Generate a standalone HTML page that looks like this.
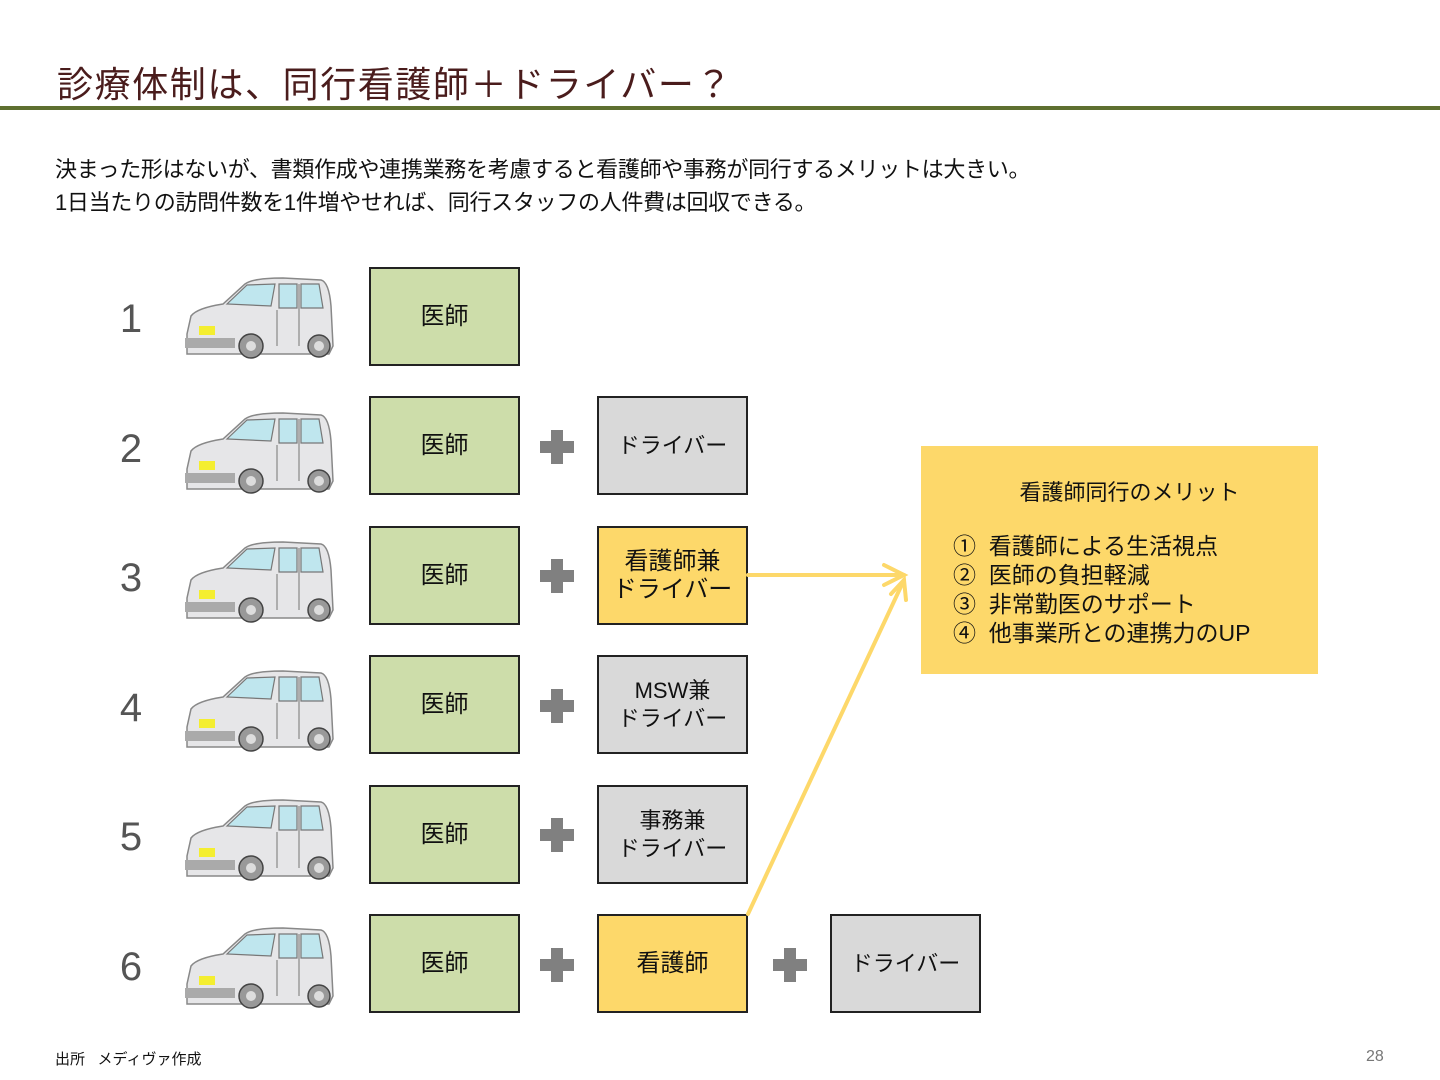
<!DOCTYPE html>
<html><head><meta charset="utf-8"><style>
body{margin:0;width:1440px;height:1080px;background:#fff;position:relative;overflow:hidden;font-family:"Liberation Sans","Noto Sans CJK JP",sans-serif;color:#111}
.a{position:absolute}
.title{left:57px;top:56px;font-size:36px;color:#4a1c1c;white-space:nowrap;letter-spacing:1.6px}
.rule{left:0;top:106px;width:1440px;height:4px;background:#5e6f30}
.p{left:55px;font-size:22px;white-space:nowrap;letter-spacing:-0.3px}
.num{left:118px;width:26px;font-size:40px;color:#555;text-align:center}
.box{border:2px solid #222;box-sizing:border-box;display:flex;align-items:center;justify-content:center;text-align:center;font-size:24px;line-height:28px;width:151px;height:99px}
.g{background:#cdddaa}.y{background:#fdd86a}.s{background:#d9d9d9;font-size:22px}
.plus{width:34px;height:34px}
.plus:before{content:"";position:absolute;left:11px;top:0;width:12px;height:34px;background:#808080}
.plus:after{content:"";position:absolute;left:0;top:11px;width:34px;height:12px;background:#808080}
</style></head><body>
<div class="a title">診療体制は、同行看護師＋ドライバー？</div>
<div class="a rule"></div>
<div class="a p" style="top:152px">決まった形はないが、書類作成や連携業務を考慮すると看護師や事務が同行するメリットは大きい。</div>
<div class="a p" style="top:185px">1日当たりの訪問件数を1件増やせれば、同行スタッフの人件費は回収できる。</div>

<svg width="0" height="0" style="position:absolute"><defs>
<g id="car">
<path d="M4 58 L8 40 Q14 32 40 28 L62 8 Q70 2 100 2 L138 4 Q146 6 148 30 L150 70 L146 78 L4 78 Z" fill="#e6e6e8" stroke="#888" stroke-width="1.5"/>
<path d="M44 28 L64 9 L92 8 L88 30 Z" fill="#bfe6ee" stroke="#777" stroke-width="1.2"/>
<path d="M96 8 L114 8 L114 32 L96 32 Z" fill="#bfe6ee" stroke="#777" stroke-width="1.2"/>
<path d="M118 8 L136 8 L140 32 L118 32 Z" fill="#bfe6ee" stroke="#777" stroke-width="1.2"/>
<path d="M94 34 L94 70 M116 8 L116 70" stroke="#888" stroke-width="1.2"/>
<rect x="16" y="50" width="16" height="9" fill="#f4ee30"/>
<rect x="2" y="62" width="50" height="10" fill="#aaa"/>
<circle cx="68" cy="70" r="12" fill="#999" stroke="#444" stroke-width="1.5"/><circle cx="68" cy="70" r="5" fill="#ddd"/>
<circle cx="136" cy="70" r="11" fill="#999" stroke="#444" stroke-width="1.5"/><circle cx="136" cy="70" r="5" fill="#ddd"/>
</g></defs></svg>

<div class="a num" style="top:297px">1</div>
<div class="a num" style="top:427px">2</div>
<div class="a num" style="top:556px">3</div>
<div class="a num" style="top:686px">4</div>
<div class="a num" style="top:815px">5</div>
<div class="a num" style="top:945px">6</div>

<svg class="a" style="left:183px;top:276px" width="152" height="84"><use href="#car"/></svg>
<svg class="a" style="left:183px;top:411px" width="152" height="84"><use href="#car"/></svg>
<svg class="a" style="left:183px;top:540px" width="152" height="84"><use href="#car"/></svg>
<svg class="a" style="left:183px;top:669px" width="152" height="84"><use href="#car"/></svg>
<svg class="a" style="left:183px;top:798px" width="152" height="84"><use href="#car"/></svg>
<svg class="a" style="left:183px;top:926px" width="152" height="84"><use href="#car"/></svg>

<div class="a box g" style="left:369px;top:267px">医師</div>
<div class="a box g" style="left:369px;top:396px">医師</div>
<div class="a box g" style="left:369px;top:526px">医師</div>
<div class="a box g" style="left:369px;top:655px">医師</div>
<div class="a box g" style="left:369px;top:785px">医師</div>
<div class="a box g" style="left:369px;top:914px">医師</div>

<div class="a plus" style="left:540px;top:430px"></div>
<div class="a plus" style="left:540px;top:559px"></div>
<div class="a plus" style="left:540px;top:689px"></div>
<div class="a plus" style="left:540px;top:818px"></div>
<div class="a plus" style="left:540px;top:948px"></div>
<div class="a plus" style="left:773px;top:948px"></div>

<div class="a box s" style="left:597px;top:396px">ドライバー</div>
<div class="a box y" style="left:597px;top:526px">看護師兼<br>ドライバー</div>
<div class="a box s" style="left:597px;top:655px">MSW兼<br>ドライバー</div>
<div class="a box s" style="left:597px;top:785px">事務兼<br>ドライバー</div>
<div class="a box y" style="left:597px;top:914px">看護師</div>
<div class="a box s" style="left:830px;top:914px">ドライバー</div>

<svg class="a" style="left:0;top:0" width="1440" height="1080">
<g stroke="#fdd86a" stroke-width="4" fill="none" stroke-linecap="round">
<line x1="748" y1="575" x2="904" y2="575"/>
<polyline points="884,565 904,575 884,585"/>
<line x1="748" y1="914" x2="904" y2="580"/>
<polyline points="891,594 904,580 906,600"/>
</g></svg>

<div class="a" style="left:921px;top:446px;width:397px;height:228px;background:#fdd86a"></div>
<div class="a" style="left:921px;top:475px;width:417px;text-align:center;font-size:22px">看護師同行のメリット</div>
<div class="a" style="left:953px;top:532px;font-size:23px;line-height:29px;white-space:nowrap">①&nbsp; 看護師による生活視点<br>②&nbsp; 医師の負担軽減<br>③&nbsp; 非常勤医のサポート<br>④&nbsp; 他事業所との連携力のUP</div>

<div class="a" style="left:55px;top:1048px;font-size:15px">出所&nbsp;&nbsp; メディヴァ作成</div>
<div class="a" style="left:1366px;top:1048px;font-size:16px;color:#777">28</div>
</body></html>
